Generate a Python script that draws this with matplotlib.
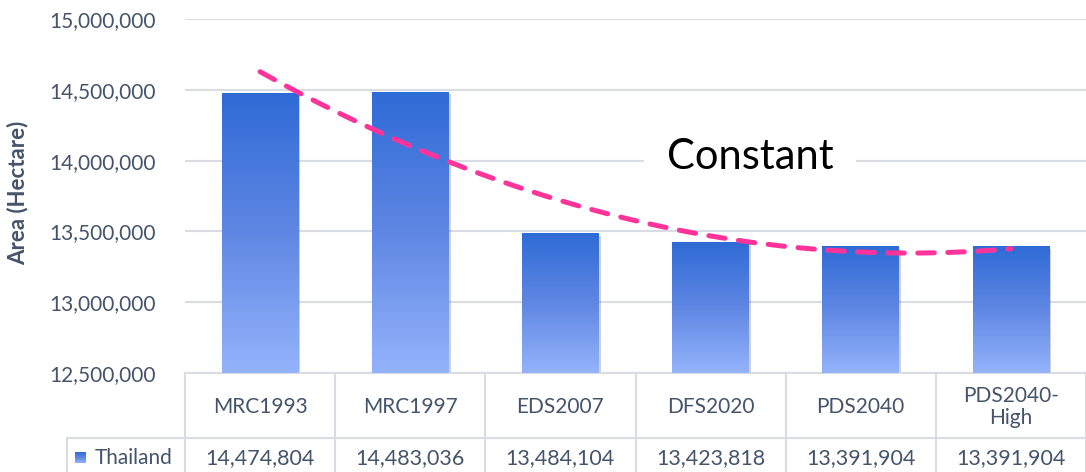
import numpy as np
import matplotlib
matplotlib.use("Agg")
import matplotlib.pyplot as plt
import matplotlib.patheffects as pe
from matplotlib.colors import LinearSegmentedColormap
from matplotlib.lines import Line2D
from matplotlib.transforms import blended_transform_factory

plt.rcParams["font.family"] = ["Lato", "DejaVu Sans"]

scenarios = ["MRC1993", "MRC1997", "EDS2007", "DFS2020", "PDS2040", "PDS2040-\nHigh"]
area_ha = [14474804, 14483036, 13484104, 13423818, 13391904, 13391904]
series_name = "Thailand"
y_ticks = [12500000, 13000000, 13500000, 14000000, 14500000, 15000000]

TEXT = "#44546a"
GRID = "#d9dde3"
W, H = 1086, 472


def fx(px):
    return px / W


def fy(py):
    return 1 - py / H


fig = plt.figure(figsize=(W / 100, H / 100), dpi=100)
ax = fig.add_axes([fx(185), fy(373), fx(1086) - fx(185), fy(19) - fy(373)])

x = np.arange(len(scenarios))
bar_cmap = LinearSegmentedColormap.from_list("bar", ["#2f6bd6", "#5f87e3", "#94b3fb"])
gradient = np.linspace(0, 1, 256).reshape(-1, 1)

bars = ax.bar(x, area_ha, width=0.51, color="#5f87e3", zorder=2,
              path_effects=[pe.SimplePatchShadow(offset=(1.5, -1.5), shadow_rgbFace="black", alpha=0.18),
                            pe.Normal()])
# each bar gets its own top-to-bottom gradient
for b in bars:
    ax.imshow(gradient, cmap=bar_cmap, aspect="auto", origin="upper", zorder=3,
              extent=[b.get_x(), b.get_x() + b.get_width(), y_ticks[0], b.get_height()])

# 2nd order polynomial trend through the series
coef = np.polyfit(x + 1, area_ha, 2)
xs = np.linspace(x[0], x[-1], 200)
ax.plot(xs, np.polyval(coef, xs + 1), color="#ff3399", lw=3.6, dashes=(3.3, 2.7),
        dash_capstyle="round", zorder=4)

ax.set_xlim(-0.5, len(scenarios) - 0.5)
ax.set_ylim(y_ticks[0], y_ticks[-1])
ax.set_yticks(y_ticks)
ax.set_yticklabels([f"{v:,}" for v in y_ticks])
ax.set_xticks([])
ax.tick_params(axis="y", length=0, pad=21, labelsize=15, labelcolor=TEXT)
ax.yaxis.grid(True, color=GRID, lw=1.5)
ax.set_axisbelow(True)
for name, sp in ax.spines.items():
    sp.set_visible(name == "bottom")
ax.spines["bottom"].set_color(GRID)
ax.spines["bottom"].set_linewidth(1.5)

fig.text(fx(18), fy(193), "Area (Hectare)", rotation=90, ha="center", va="center",
         fontsize=16, fontweight="bold", color=TEXT)

fig.text(fx(750), fy(157), "Constant", ha="center", va="center", fontsize=30, color="black",
         bbox=dict(boxstyle="square,pad=0.55", fc="white", ec="none"))

# data table under the plot
trans = blended_transform_factory(ax.transData, fig.transFigure)
fig.add_artist(Line2D([fx(67), 1], [fy(438), fy(438)], color=GRID, lw=1.5))
fig.add_artist(Line2D([fx(67), fx(67)], [fy(438), 0], color=GRID, lw=1.5))
for k in range(len(scenarios) + 1):
    fig.add_artist(Line2D([k - 0.5, k - 0.5], [fy(373), 0], color=GRID, lw=1.5, transform=trans))

for k, (name, val) in enumerate(zip(scenarios, area_ha)):
    fig.text(k, fy(407), name, transform=trans, ha="center", va="center",
             fontsize=15, color=TEXT, linespacing=1.15)
    fig.text(k, fy(458), f"{val:,}", transform=trans, ha="center", va="center",
             fontsize=15.5, color=TEXT)

key = fig.add_axes([fx(75), fy(463), fx(11), 11 / H])
key.imshow(gradient, cmap=bar_cmap, aspect="auto", origin="upper")
key.axis("off")
fig.text(fx(95), fy(458), series_name, ha="left", va="center", fontsize=15, color=TEXT)

fig.savefig("out.png", dpi=100)
